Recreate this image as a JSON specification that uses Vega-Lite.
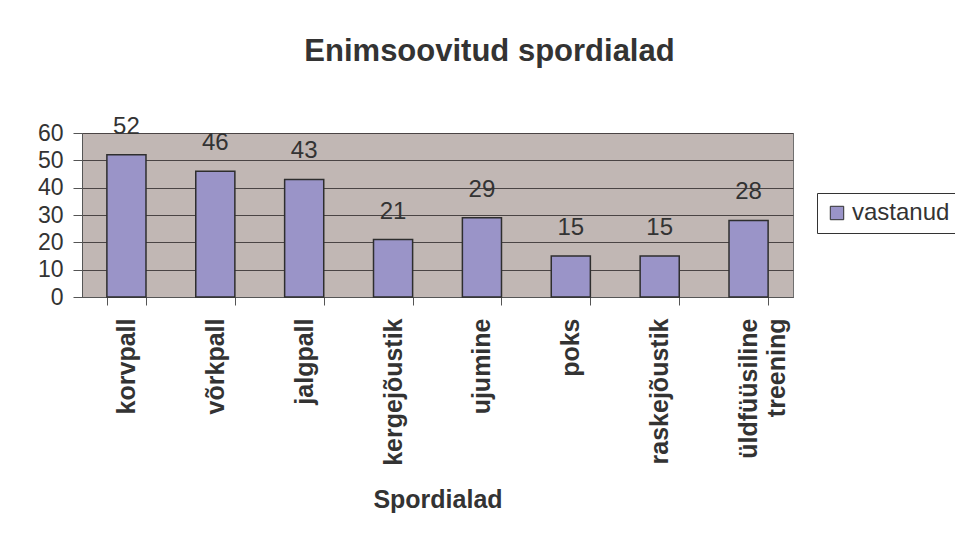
{
  "$schema": "https://vega.github.io/schema/vega-lite/v6.json",
  "width": 711,
  "height": 164,
  "autosize": {"type": "none"},
  "padding": {"left": 82, "top": 133, "right": 162, "bottom": 243},
  "background": "white",
  "title": {
    "text": "Enimsoovitud spordialad",
    "font": "Liberation Sans",
    "fontSize": 31,
    "fontWeight": "bold",
    "color": "#333333",
    "anchor": "middle",
    "frame": "group",
    "dx": 52,
    "offset": 47
  },
  "data": {
    "values": [
      {"ala": "korvpall", "vastanud": 52, "seeria": "vastanud"},
      {"ala": "võrkpall", "vastanud": 46, "seeria": "vastanud"},
      {"ala": "jalgpall", "vastanud": 43, "seeria": "vastanud"},
      {"ala": "kergejõustik", "vastanud": 21, "seeria": "vastanud"},
      {"ala": "ujumine", "vastanud": 29, "seeria": "vastanud"},
      {"ala": "poks", "vastanud": 15, "seeria": "vastanud"},
      {"ala": "raskejõustik", "vastanud": 15, "seeria": "vastanud"},
      {"ala": "üldfüüsiline treening", "vastanud": 28, "seeria": "vastanud"}
    ]
  },
  "encoding": {
    "x": {
      "field": "ala",
      "type": "nominal",
      "sort": null,
      "scale": {"paddingInner": 0.56, "paddingOuter": 0.28},
      "axis": {
        "title": "Spordialad",
        "titleFont": "Liberation Sans",
        "titleFontSize": 25,
        "titleFontWeight": "bold",
        "titleColor": "#333333",
        "titlePadding": 22,
        "labelAngle": -90,
        "labelFont": "Liberation Sans",
        "labelFontSize": 25,
        "labelFontWeight": "bold",
        "labelColor": "#333333",
        "labelPadding": 13,
        "labelExpr": "datum.value == 'üldfüüsiline treening' ? ['üldfüüsiline', 'treening'] : datum.value",
        "labelLineHeight": 28,
        "tickBand": "extent",
        "tickSize": 8,
        "tickColor": "#555555",
        "domainColor": "#555555",
        "grid": false
      }
    },
    "y": {
      "field": "vastanud",
      "type": "quantitative",
      "scale": {"domain": [0, 60]},
      "axis": {
        "title": null,
        "values": [0, 10, 20, 30, 40, 50, 60],
        "labelFont": "Liberation Sans",
        "labelFontSize": 23,
        "labelColor": "#333333",
        "labelPadding": 10,
        "tickSize": 9,
        "tickColor": "#555555",
        "domainColor": "#555555",
        "grid": true,
        "gridColor": "#4a4444",
        "gridWidth": 1
      }
    }
  },
  "layer": [
    {
      "mark": {"type": "bar", "stroke": "#2e2e2e", "strokeWidth": 1.5},
      "encoding": {
        "color": {
          "field": "seeria",
          "type": "nominal",
          "scale": {"range": ["#9a94c8"]},
          "legend": {
            "title": null,
            "orient": "none",
            "legendX": 735,
            "legendY": 60,
            "symbolType": "square",
            "symbolSize": 180,
            "symbolStrokeColor": "#2e2e2e",
            "symbolStrokeWidth": 1,
            "labelFont": "Liberation Sans",
            "labelFontSize": 24,
            "labelColor": "#333333",
            "labelOffset": 3,
            "strokeColor": "#333333",
            "padding": 8,
            "fillColor": "white"
          }
        }
      }
    },
    {
      "mark": {
        "type": "text",
        "baseline": "alphabetic",
        "dy": -21,
        "font": "Liberation Sans",
        "fontSize": 24,
        "color": "#333333"
      },
      "encoding": {"text": {"field": "vastanud", "type": "quantitative"}}
    }
  ],
  "config": {
    "view": {"fill": "#c1b7b4", "stroke": "#707070", "strokeWidth": 1}
  }
}
